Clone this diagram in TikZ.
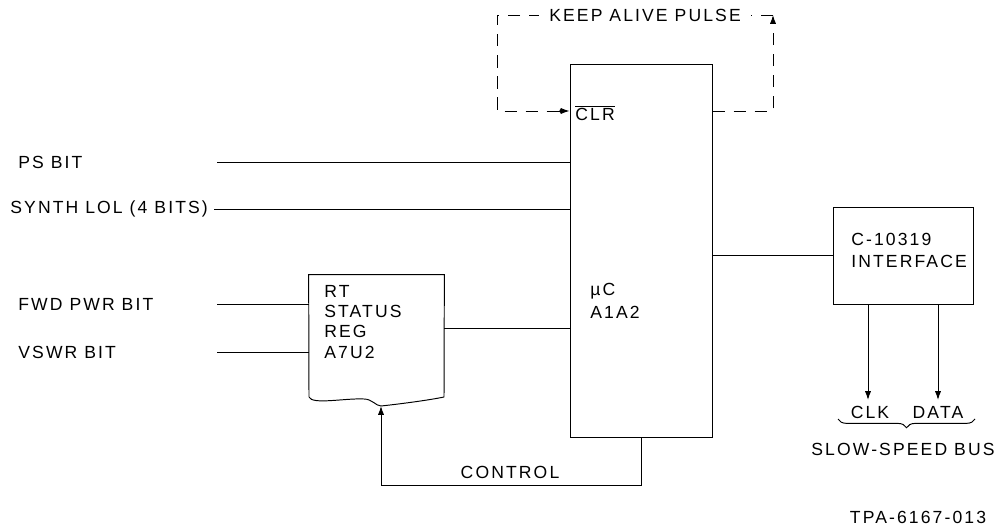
\documentclass[tikz,border=0pt]{standalone}
\usepackage{fontspec}
\setmainfont{Liberation Sans}
\usetikzlibrary{arrows.meta,decorations.pathreplacing,calc}

\tikzstyle{lbl} = [inner sep=0pt, anchor=west, font=\fontsize{10}{11.5}\selectfont\addfontfeatures{LetterSpace=12}]
\tikzstyle{box} = [draw, line width=0.55pt, inner sep=0pt]
\tikzstyle{wire} = [line width=0.55pt]
\tikzstyle{arr} = [line width=0.55pt, -{Latex[length=5pt,width=3.5pt]}]
\tikzstyle{ka} = [line width=0.55pt, dash pattern=on 7pt off 5pt]

\begin{document}
\begin{tikzpicture}[x=0.02cm, y=-0.02cm]
\useasboundingbox (0,0) rectangle (994,526);

% blocks
\node[box, minimum width={142*0.02cm}, minimum height={373*0.02cm}] (uc) at (641,250.5) {};
\node[box, minimum width={140*0.02cm}, minimum height={97*0.02cm}] (ifc) at (903,255.5) {};
\node[inner sep=0pt, minimum width={135*0.02cm}, minimum height={122*0.02cm}] (reg) at (376.5,336) {};
\draw[wire] (309,397) -- (reg.north west) -- (reg.north east) -- (444,397)
    .. controls (430,400) and (400,404) .. (381,406)
    .. controls (376,406) and (372,399) .. (364,399)
    .. controls (345,398) and (312,405) .. (309,397);
\coordinate (regin) at (381,406);

% texts in blocks
\node[lbl] (uclbl) at (590,291) {µC};
\node[lbl] (ucname) at (590,312) {A1A2};
\node[lbl] (clr) at (575,113) {$\overline{\hbox{CLR}}$};
\node[lbl, align=left, anchor=north west] (reglbl) at (324,285)
    {RT\\ STATUS\\ REG\\ A7U2};
\node[lbl, align=left, anchor=north west, font=\fontsize{10}{12.5}\selectfont\addfontfeatures{LetterSpace=12}] (ifclbl) at (851,233)
    {C-10319\\ INTERFACE};

% inputs
\node[lbl] (ps) at (18,162) {PS BIT};
\node[lbl] (synth) at (10,209) {SYNTH LOL (4 BITS)};
\node[lbl] (fwd) at (18,304) {FWD PWR BIT};
\node[lbl] (vswr) at (18,352) {VSWR BIT};
\coordinate (psin) at (217,162);
\coordinate (fwdin) at (217,304);
\coordinate (vswrin) at (217,352);
\draw[wire] (psin) -- (psin -| uc.west);
\draw[wire] (synth.east) ++(6,0) -- (synth.east -| uc.west);
\draw[wire] (fwdin) -- (fwdin -| reg.west);
\draw[wire] (vswrin) -- (vswrin -| reg.west);
\draw[wire] (reg.east |- 0,328) -- (uc.west |- 0,328);
\draw[wire] (uc.east |- ifc.west) -- (ifc.west);

% keep alive loop
\coordinate (kaR) at (773,111);
\coordinate (kaTR) at (773,15);
\coordinate (kaTL) at (497,15);
\coordinate (kaBL) at (497,111);
\draw[ka, -{Latex[length=5pt,width=3.5pt]}] (uc.east |- kaR) -- (kaR) -- (kaTR);
\draw[ka] (kaTR) -- (kaTL) -- (kaBL) -- ($(kaBL -| uc.west)+(-14,0)$);
\draw[arr] ($(kaBL -| uc.west)+(-18,0)$) -- (kaBL -| uc.west);
\fill ($(kaBL -| uc.west)+(-8,0)$) circle (1.2pt);
\node[lbl, fill=white, inner xsep=6pt, anchor=center] (kalbl) at (645,15) {KEEP ALIVE PULSE};

% control
\draw[arr] (uc.south) -- ++(0,48) coordinate (ctlc) -| (regin);
\node[lbl, anchor=south] (ctl) at (510,479) {CONTROL};

% slow-speed bus
\coordinate (clk) at (868,400);
\coordinate (data) at (938,400);
\draw[arr] (ifc.south -| clk) -- (clk);
\draw[arr] (ifc.south -| data) -- (data);
\node[lbl, anchor=center] (clklbl) at (870,412) {CLK};
\node[lbl, anchor=center] (datalbl) at (938,412) {DATA};
\draw[wire, decorate, decoration={brace, mirror, amplitude=5pt}] (838,419) -- (975,419);
\node[lbl, anchor=center] (bus) at (903,449) {SLOW-SPEED BUS};
\node[lbl, anchor=center] (tpa) at (918,517) {TPA-6167-013};
\end{tikzpicture}
\end{document}
